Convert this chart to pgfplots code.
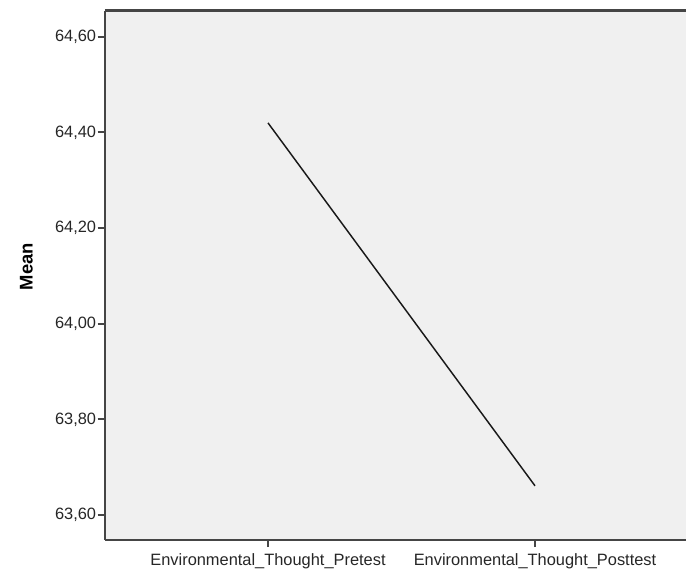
\documentclass[border=0pt]{standalone}
\usepackage{pgfplots}
\pgfplotsset{compat=1.18}
\usepackage{fontspec}
\setmainfont{Liberation Sans}
\definecolor{panel}{HTML}{F0F0F0}
\definecolor{frame}{HTML}{454545}

\begin{document}
\begin{tikzpicture}[x=1pt,y=1pt]
\begin{axis}[
    scale only axis,
    width=435.75pt,
    height=397pt,
    xmin=0.3895, xmax=2.5655,
    ymin=63.548, ymax=64.655,
    axis background/.style={fill=panel},
    axis x line*=box,
    axis y line*=left,
    x axis line style={draw=frame, line width=1.6pt, -},
    y axis line style={draw=frame, line width=1.6pt, -},
    xtick={1,2},
    xticklabels={Environmental\_Thought\_Pretest, Environmental\_Thought\_Posttest},
    ytick={63.6,63.8,64.0,64.2,64.4,64.6},
    tick align=outside,
    every tick/.append style={draw=frame, line width=1.5pt},
    major tick length=5.5pt,
    xtick pos=bottom, ytick pos=left,
    /pgf/number format/fixed,
    /pgf/number format/fixed zerofill,
    /pgf/number format/precision=2,
    /pgf/number format/use comma,
    /pgf/number format/assume math mode=true,
    ticklabel style={font=\fontsize{12.3}{14}\selectfont, text=black!85},
    yticklabel style={inner sep=1pt},
    xticklabel style={inner sep=1.5pt, yshift=-3pt},
    ylabel={\textbf{Mean}},
    every axis y label/.style={at={([xshift=-59pt]rel axis cs:0,0.516)}, rotate=90, anchor=center, font=\fontsize{13.8}{16}\selectfont},
    clip=false,
]
% means of the two measurements
\addplot[black!90, line width=1.1pt] coordinates {
    (1, 64.42)
    (2, 63.661)
};
\end{axis}
\pgfresetboundingbox
\path[use as bounding box] ([shift={(-78.75pt,-26.25pt)}]current axis.south west) rectangle ([shift={(0pt,7.9pt)}]current axis.north east);
\end{tikzpicture}
\end{document}
